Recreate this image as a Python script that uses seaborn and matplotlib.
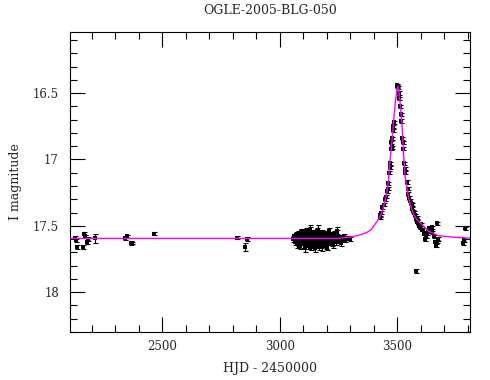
import numpy as np
import pandas as pd
import matplotlib
matplotlib.use("Agg")
import matplotlib.pyplot as plt
import seaborn as sns

# ---- data ----
early_hjd = [2130, 2133, 2139, 2165, 2169, 2172, 2182, 2186, 2215, 2342,
             2352, 2368, 2372, 2466, 2818, 2863, 2853]
early_mag = [17.59, 17.61, 17.66, 17.66, 17.56, 17.58, 17.62, 17.60, 17.595, 17.595,
             17.58, 17.63, 17.63, 17.56, 17.59, 17.60, 17.66]
early_err = [0.012, 0.012, 0.012, 0.012, 0.012, 0.010, 0.015, 0.012, 0.035, 0.010,
             0.012, 0.012, 0.010, 0.010, 0.010, 0.015, 0.030]

cluster_hjd = [3058, 3062, 3065, 3068, 3070, 3073, 3075, 3078, 3080, 3082,
               3085, 3087, 3090, 3092, 3094, 3096, 3098, 3100, 3102, 3104,
               3106, 3108, 3110, 3112, 3114, 3116, 3118, 3120, 3122, 3124,
               3126, 3128, 3130, 3132, 3134, 3136, 3138, 3140, 3142, 3144,
               3146, 3148, 3150, 3152, 3154, 3156, 3158, 3160, 3162, 3164,
               3166, 3168, 3170, 3172, 3174, 3176, 3178, 3180, 3182, 3184,
               3186, 3188, 3190, 3192, 3194, 3196, 3198, 3200, 3203, 3206,
               3209, 3212, 3215, 3218, 3221, 3224, 3227, 3230, 3234, 3238,
               3242, 3246, 3250, 3255, 3260, 3266, 3272, 3280, 3290, 3300,
               3128, 3164, 3180, 3245, 3110, 3150, 3200, 3092, 3140, 3225]
cluster_mag = [17.60, 17.58, 17.62, 17.57, 17.61, 17.64, 17.59, 17.56, 17.63, 17.60,
               17.58, 17.65, 17.61, 17.57, 17.55, 17.62, 17.59, 17.64, 17.60, 17.56,
               17.61, 17.58, 17.63, 17.59, 17.54, 17.62, 17.60, 17.57, 17.65, 17.61,
               17.58, 17.53, 17.62, 17.59, 17.66, 17.60, 17.56, 17.63, 17.58, 17.61,
               17.55, 17.64, 17.59, 17.62, 17.57, 17.60, 17.54, 17.63, 17.58, 17.61,
               17.66, 17.59, 17.56, 17.62, 17.60, 17.57, 17.64, 17.59, 17.55, 17.61,
               17.58, 17.63, 17.60, 17.56, 17.62, 17.59, 17.65, 17.57, 17.61, 17.58,
               17.54, 17.62, 17.60, 17.57, 17.63, 17.59, 17.61, 17.56, 17.60, 17.62,
               17.58, 17.55, 17.61, 17.59, 17.63, 17.60, 17.58, 17.61, 17.59, 17.60,
               17.53, 17.53, 17.66, 17.54, 17.67, 17.67, 17.66, 17.55, 17.56, 17.64]
cluster_err = [0.022, 0.020, 0.025, 0.020, 0.022, 0.025, 0.020, 0.022, 0.025, 0.020,
               0.022, 0.025, 0.020, 0.022, 0.020, 0.025, 0.020, 0.025, 0.022, 0.020,
               0.022, 0.020, 0.025, 0.022, 0.020, 0.025, 0.022, 0.020, 0.025, 0.022,
               0.020, 0.022, 0.025, 0.020, 0.025, 0.022, 0.020, 0.025, 0.020, 0.022,
               0.020, 0.025, 0.022, 0.025, 0.020, 0.022, 0.020, 0.025, 0.022, 0.020,
               0.025, 0.022, 0.020, 0.025, 0.022, 0.020, 0.025, 0.022, 0.020, 0.022,
               0.020, 0.025, 0.022, 0.020, 0.025, 0.022, 0.025, 0.020, 0.022, 0.020,
               0.020, 0.025, 0.022, 0.020, 0.025, 0.022, 0.020, 0.022, 0.020, 0.025,
               0.022, 0.020, 0.022, 0.020, 0.025, 0.020, 0.020, 0.015, 0.015, 0.012,
               0.035, 0.035, 0.030, 0.030, 0.025, 0.030, 0.025, 0.025, 0.025, 0.030]

event_hjd = [3425, 3428, 3432, 3435, 3442, 3449, 3452, 3456, 3459, 3463,
             3466, 3468, 3470, 3473, 3474, 3477, 3480, 3481, 3484, 3486,
             3498, 3501, 3503, 3507, 3510, 3513, 3516, 3517, 3520, 3523,
             3524, 3531, 3534, 3535, 3541, 3545, 3548, 3552, 3555, 3558,
             3562, 3564, 3566, 3570, 3576, 3579, 3583, 3586, 3590, 3594,
             3598, 3602, 3606, 3612, 3616, 3619, 3622, 3626, 3632, 3636,
             3640, 3647, 3650, 3655, 3660, 3666, 3669, 3672, 3669, 3581,
             3782, 3785, 3789]
event_mag = [17.42, 17.44, 17.40, 17.36, 17.34, 17.30, 17.28, 17.24, 17.22, 17.18,
             17.10, 17.06, 17.03, 16.92, 16.87, 16.91, 16.84, 16.78, 16.75, 16.72,
             16.45, 16.44, 16.46, 16.50, 16.54, 16.60, 16.66, 16.71, 16.84, 16.87,
             16.92, 17.03, 17.07, 17.10, 17.17, 17.22, 17.26, 17.29, 17.31, 17.33,
             17.34, 17.37, 17.39, 17.40, 17.42, 17.45, 17.44, 17.47, 17.48, 17.50,
             17.51, 17.49, 17.53, 17.53, 17.56, 17.60, 17.58, 17.56, 17.54, 17.52,
             17.52, 17.51, 17.55, 17.58, 17.62, 17.65, 17.62, 17.60, 17.48, 17.84,
             17.63, 17.61, 17.52]
event_err = [0.012] * 73

model_hjd = [2100, 3250, 3300, 3340, 3371, 3389, 3413, 3428, 3440, 3449,
             3456, 3463, 3470, 3473, 3480, 3487, 3493, 3499, 3502, 3506,
             3510, 3515, 3520, 3527, 3534, 3541, 3548, 3556, 3569, 3583,
             3605, 3633, 3676, 3747, 3820]
model_mag = [17.595, 17.595, 17.585, 17.57, 17.55, 17.53, 17.47, 17.43, 17.37, 17.31,
             17.25, 17.16, 17.00, 16.96, 16.82, 16.67, 16.56, 16.48, 16.45, 16.47,
             16.52, 16.62, 16.72, 16.95, 17.13, 17.20, 17.28, 17.34, 17.41, 17.45,
             17.49, 17.54, 17.575, 17.587, 17.593]

title = "OGLE-2005-BLG-050"
xlabel = "HJD - 2450000"
ylabel = "I magnitude"
xticks = [2500, 3000, 3500]
yticks = [16.5, 17.0, 17.5, 18.0]
ytick_labels = ["16.5", "17", "17.5", "18"]

# ---- build table ----
pts = pd.DataFrame({
    "hjd": early_hjd + cluster_hjd + event_hjd,
    "mag": early_mag + cluster_mag + event_mag,
    "err": early_err + cluster_err + event_err,
})
model = pd.DataFrame({"hjd": model_hjd, "mag": model_mag})

sns.set_theme(style="ticks")
plt.rcParams["font.family"] = ["DejaVu Serif", "DejaVu Sans"]

fig = plt.figure(figsize=(4.9, 3.8), dpi=100)
ax = fig.add_axes([70 / 490, 1 - 332 / 380, 400 / 490, 300 / 380])

ax.errorbar(pts["hjd"], pts["mag"], yerr=pts["err"], fmt="none",
            ecolor="black", elinewidth=0.8, capsize=1.8, capthick=0.8, zorder=2)
sns.scatterplot(data=pts, x="hjd", y="mag", marker="s", s=10, color="black",
                linewidth=0, ax=ax, zorder=3)
sns.lineplot(data=model, x="hjd", y="mag", color="#ff00ff", linewidth=1.0,
             sort=False, estimator=None, ax=ax, zorder=4)

ax.set_xlim(2108, 3810)
ax.set_ylim(18.30, 16.04)
ax.set_xticks(xticks)
ax.set_xticklabels([str(t) for t in xticks])
ax.set_yticks(yticks)
ax.set_yticklabels(ytick_labels)
ax.set_xticks(np.arange(2200, 3801, 100), minor=True)
ax.set_yticks(np.arange(16.1, 18.31, 0.1), minor=True)

ax.tick_params(which="both", direction="in", top=True, right=True,
               color="black", width=0.8)
ax.tick_params(which="major", length=10.5, labelsize=8.5, pad=6)
ax.tick_params(which="minor", length=5)
ax.tick_params(axis="y", which="major", pad=8)
for s in ax.spines.values():
    s.set_linewidth(0.8)
    s.set_color("black")

ax.set_xlabel(xlabel, fontsize=9, labelpad=6)
ax.set_ylabel(ylabel, fontsize=9, labelpad=8)
fig.text(270 / 490, 1 - 10 / 380, title, ha="center", va="center", fontsize=9)

fig.savefig("out.png", dpi=100)
